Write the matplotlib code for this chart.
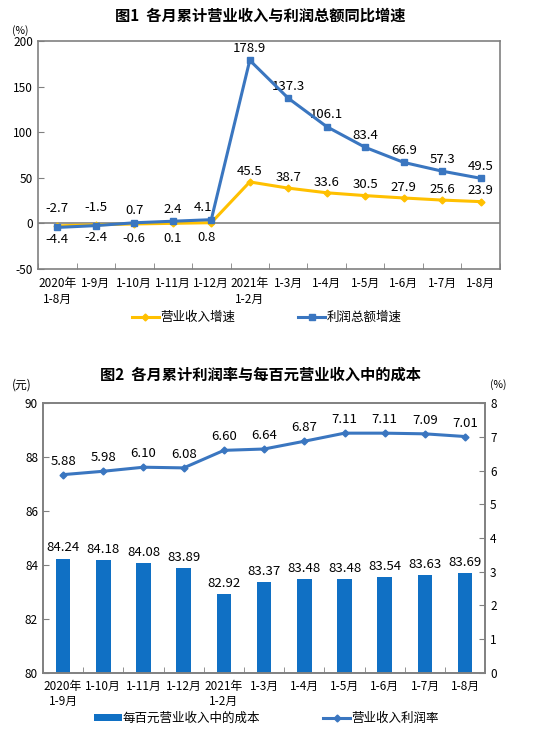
import numpy as np
import matplotlib
matplotlib.use('Agg')
import matplotlib.pyplot as plt

plt.rcParams['font.family'] = ['Noto Sans CJK SC', 'DejaVu Sans']
plt.rcParams['axes.unicode_minus'] = False

# chart 1
months1 = ['2020年\n1-8月', '1-9月', '1-10月', '1-11月', '1-12月', '2021年\n1-2月',
           '1-3月', '1-4月', '1-5月', '1-6月', '1-7月', '1-8月']
revenue_growth = [-2.7, -1.5, -0.6, 0.1, 0.8, 45.5, 38.7, 33.6, 30.5, 27.9, 25.6, 23.9]
profit_growth = [-4.4, -2.4, 0.7, 2.4, 4.1, 178.9, 137.3, 106.1, 83.4, 66.9, 57.3, 49.5]

# chart 2
months2 = ['2020年\n1-9月', '1-10月', '1-11月', '1-12月', '2021年\n1-2月',
           '1-3月', '1-4月', '1-5月', '1-6月', '1-7月', '1-8月']
cost_per_100 = [84.24, 84.18, 84.08, 83.89, 82.92, 83.37, 83.48, 83.48, 83.54, 83.63, 83.69]
profit_margin = [5.88, 5.98, 6.10, 6.08, 6.60, 6.64, 6.87, 7.11, 7.11, 7.09, 7.01]

YELLOW = '#FFC000'
BLUE = '#3A76C0'
BAR = '#1070C4'
FRAME = '#808080'


def style_axis(ax):
    for s in ax.spines.values():
        s.set_color(FRAME)
        s.set_linewidth(1.2)
    ax.tick_params(axis='both', direction='in', colors='black', labelsize=8.5, length=4, color=FRAME)


fig = plt.figure(figsize=(5.44, 7.33), dpi=100)

# ---- figure 1 ----
ax1 = fig.add_axes([0.070, 0.633, 0.849, 0.311])
x1 = np.arange(len(months1))
ax1.plot(x1, revenue_growth, color=YELLOW, lw=2.2, marker='D', ms=3.5, zorder=3)
ax1.plot(x1, profit_growth, color=BLUE, lw=2.2, marker='s', ms=4, zorder=4)
ax1.axhline(0, color=FRAME, lw=1.2, zorder=1)
ax1.set_xlim(-0.5, len(months1) - 0.5)
ax1.set_ylim(-50, 200)
ax1.set_yticks([-50, 0, 50, 100, 150, 200])
ax1.set_xticks(x1)
ax1.set_xticklabels(months1, fontsize=7.5, linespacing=1.25)
ax1.set_xticks(np.arange(len(months1) + 1) - 0.5, minor=True)
style_axis(ax1)
ax1.tick_params(axis='x', which='major', length=0, pad=6)
ax1.tick_params(axis='x', which='minor', direction='in', length=4, color=FRAME)

for i in range(len(months1)):
    r, p = revenue_growth[i], profit_growth[i]
    dx = -6 if i == 4 else 0
    if i < 2:
        ax1.annotate(f'{r}', (i, r), xytext=(0, 8), textcoords='offset points',
                     ha='center', va='bottom', fontsize=9.5)
        ax1.annotate(f'{p}', (i, p), xytext=(0, -4), textcoords='offset points',
                     ha='center', va='top', fontsize=9.5)
    elif i < 5:
        ax1.annotate(f'{p}', (i, p), xytext=(dx, 4), textcoords='offset points',
                     ha='center', va='bottom', fontsize=9.5)
        ax1.annotate(f'{r}', (i, r), xytext=(dx * 0.6, -6), textcoords='offset points',
                     ha='center', va='top', fontsize=9.5)
    else:
        ax1.annotate(f'{p}', (i, p), xytext=(0, 4), textcoords='offset points',
                     ha='center', va='bottom', fontsize=9.5)
        ax1.annotate(f'{r}', (i, r), xytext=(0, 3), textcoords='offset points',
                     ha='center', va='bottom', fontsize=9.5)

fig.text(0.478, 0.979, '图1  各月累计营业收入与利润总额同比增速', ha='center', va='center',
         fontsize=11, fontweight='bold')
fig.text(0.038, 0.958, '(%)', ha='center', va='center', fontsize=7.5)

h1 = ax1.plot([], [], color=YELLOW, lw=2.2, marker='D', ms=3.5)[0]
h2 = ax1.plot([], [], color=BLUE, lw=2.2, marker='s', ms=4)[0]
fig.legend([h1, h2], ['营业收入增速', '利润总额增速'], loc='center', bbox_to_anchor=(0.49, 0.567),
           ncol=2, frameon=False, fontsize=9, columnspacing=5, handlelength=2.2, handletextpad=0.1)

# ---- figure 2 ----
ax2 = fig.add_axes([0.079, 0.082, 0.813, 0.368])
x2 = np.arange(len(months2))
ax2.bar(x2, cost_per_100, width=0.36, color=BAR, zorder=2)
ax2.set_ylim(80, 90)
ax2.set_yticks([80, 82, 84, 86, 88, 90])
ax2.set_xlim(-0.5, len(months2) - 0.5)
ax2.set_xticks(x2)
ax2.set_xticklabels(months2, fontsize=7.5, linespacing=1.25)
ax2.set_xticks(np.arange(len(months2) + 1) - 0.5, minor=True)
style_axis(ax2)
ax2.tick_params(axis='x', which='major', length=0, pad=5)
ax2.tick_params(axis='x', which='minor', direction='in', length=4, color=FRAME)
for i, v in enumerate(cost_per_100):
    ax2.annotate(f'{v:.2f}', (i, v), xytext=(0, 3), textcoords='offset points',
                 ha='center', va='bottom', fontsize=9.5)

ax3 = ax2.twinx()
ax3.plot(x2, profit_margin, color=BLUE, lw=2.2, marker='D', ms=3.5, zorder=4)
ax3.set_ylim(0, 8)
ax3.set_yticks(range(0, 9))
style_axis(ax3)
for i, v in enumerate(profit_margin):
    ax3.annotate(f'{v:.2f}', (i, v), xytext=(0, 5), textcoords='offset points',
                 ha='center', va='bottom', fontsize=9.5)

fig.text(0.478, 0.489, '图2  各月累计利润率与每百元营业收入中的成本', ha='center', va='center',
         fontsize=11, fontweight='bold')
fig.text(0.040, 0.475, '(元)', ha='center', va='center', fontsize=8.5)
fig.text(0.915, 0.475, '(%)', ha='center', va='center', fontsize=7.5)

h3 = ax2.bar([0], [0], color=BAR)
h4 = ax3.plot([], [], color=BLUE, lw=2.2, marker='D', ms=3.5)[0]
fig.legend([h3, h4], ['每百元营业收入中的成本', '营业收入利润率'], loc='center',
           bbox_to_anchor=(0.49, 0.020), ncol=2, frameon=False, fontsize=9,
           columnspacing=5, handlelength=2.2, handletextpad=0.1, handleheight=0.5)

fig.savefig('out.png', dpi=100)
